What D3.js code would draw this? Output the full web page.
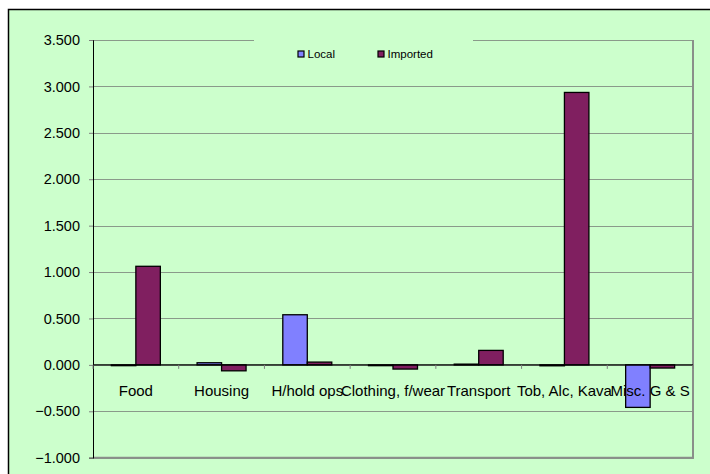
<!DOCTYPE html>
<html><head><meta charset="utf-8">
<script src="https://cdn.jsdelivr.net/npm/d3@7"></script>
<style>html,body{margin:0;padding:0;background:#fff;}svg{display:block;}</style>
</head><body>
<svg id="c" width="710" height="474"></svg>
<script>
const categories = ["Food","Housing","H/hold ops","Clothing, f/wear","Transport","Tob, Alc, Kava","Misc. G & S"];
const seriesNames = ["Local","Imported"];
const localValues = [-0.005, 0.023, 0.54, -0.005, 0.008, -0.01, -0.458];
const importedValues = [1.062, -0.064, 0.03, -0.045, 0.156, 2.935, -0.034];
const yTicks = [-1.0,-0.5,0,0.5,1.0,1.5,2.0,2.5,3.0,3.5];
const colors = ["#8080FF","#801F60"];

const svg = d3.select("#c");
const bg = "#CCFFCC";
// chart area
svg.append("rect").attr("x",8.5).attr("y",9.5).attr("width",760).attr("height",520)
  .attr("fill",bg).attr("stroke","#000").attr("stroke-width",1.5);

const L=93, R=693, T=40, B=457.7;
const x = d3.scaleBand().domain(categories).range([L,R]);
const y = d3.scaleLinear().domain([-1,3.5]).range([B,T]);
const inner = d3.scaleBand().domain(seriesNames).range([0,x.bandwidth()]).paddingInner(0).paddingOuter(0.75);

// gridlines
svg.append("g").selectAll("line").data(yTicks).join("line")
  .attr("x1",L).attr("x2",R).attr("y1",d=>Math.round(y(d))+0.5).attr("y2",d=>Math.round(y(d))+0.5)
  .attr("stroke","#8a9a8a").attr("stroke-width",1.2);
// plot border right/bottom
svg.append("line").attr("x1",R).attr("x2",R).attr("y1",T).attr("y2",B+1).attr("stroke","#8a8f8a").attr("stroke-width",2);
svg.append("line").attr("x1",L).attr("x2",R+1).attr("y1",B).attr("y2",B).attr("stroke","#8a8f8a").attr("stroke-width",2);

// legend background (breaks the top gridline)
svg.append("rect").attr("x",254).attr("y",35).attr("width",219).attr("height",32).attr("fill",bg);

// bars
const data = categories.map((c,i)=>({c, vals:[localValues[i], importedValues[i]]}));
const g = svg.append("g");
data.forEach(d=>{
  d.vals.forEach((v,j)=>{
    const y0=y(0), y1=y(v);
    g.append("rect")
      .attr("x", x(d.c)+inner(seriesNames[j]))
      .attr("width", inner.bandwidth())
      .attr("y", Math.min(y0,y1))
      .attr("height", Math.max(Math.abs(y1-y0),0.8))
      .attr("fill", colors[j]).attr("stroke","#000").attr("stroke-width",1.3);
  });
});

// y axis
const yAxis = d3.axisLeft(y).tickValues(yTicks).tickSize(4).tickPadding(9).tickFormat(d3.format(".3f"));
const ya = svg.append("g").attr("transform",`translate(${L},0)`).call(yAxis);
ya.select(".domain").attr("stroke","#000");
ya.selectAll(".tick line").attr("stroke","#808080");
ya.selectAll("text").attr("font-family","Liberation Sans, Arial, sans-serif").attr("font-size","14.5px").attr("fill","#000");

// zero axis line
svg.append("line").attr("x1",L).attr("x2",R).attr("y1",y(0)).attr("y2",y(0)).attr("stroke","#000").attr("stroke-width",1.2);
// category ticks
const bounds = categories.map(c=>x(c)).concat([R]);
svg.append("g").selectAll("line").data(bounds).join("line")
  .attr("x1",d=>d).attr("x2",d=>d).attr("y1",y(0)).attr("y2",y(0)+4)
  .attr("stroke","#808080");
// category labels
svg.append("g").selectAll("text").data(categories).join("text")
  .attr("x",d=>x(d)+x.bandwidth()/2).attr("y",396)
  .attr("text-anchor","middle").attr("font-family","Liberation Sans, Arial, sans-serif")
  .attr("font-size","15px").attr("fill","#000").text(d=>d);

// legend
const legX = [298, 378];
seriesNames.forEach((s,i)=>{
  svg.append("rect").attr("x",legX[i]).attr("y",51).attr("width",6).attr("height",6)
    .attr("fill",colors[i]).attr("stroke","#000").attr("stroke-width",1.2);
  svg.append("text").attr("x",legX[i]+9.5).attr("y",58).attr("font-family","Liberation Sans, Arial, sans-serif")
    .attr("font-size","11.5px").attr("fill","#000").text(s);
});
</script>
</body></html>
